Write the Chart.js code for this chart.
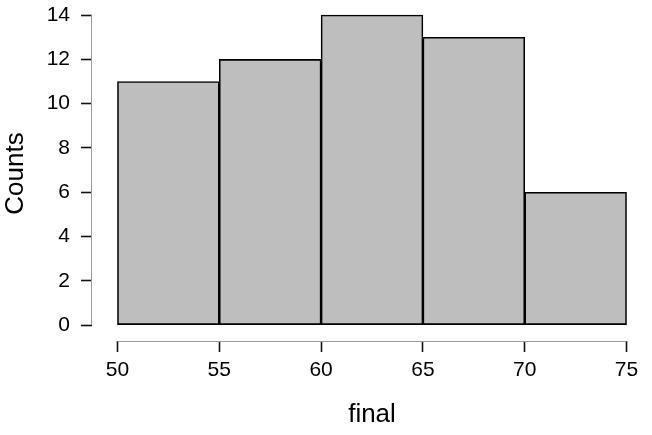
<!DOCTYPE html>
<html>
<head>
<meta charset="utf-8">
<script src="https://cdn.jsdelivr.net/npm/chart.js@4"></script>
<style>
  html, body { margin: 0; padding: 0; background: #fff; }
  #wrap { width: 652px; height: 435px; }
</style>
</head>
<body>
<div id="wrap"><canvas id="histFigure" width="652" height="435"></canvas></div>
<script>
// histogram of "final" - bin edges and counts
var binEdges = [50, 55, 60, 65, 70, 75]
var counts = [11, 12, 14, 13, 6]
var xTicks = [50, 55, 60, 65, 70, 75]
var yTicks = [0, 2, 4, 6, 8, 10, 12, 14]
var xTitle = 'final'
var yTitle = 'Counts'

var barData = []
for (var i = 0; i < counts.length; i++) {
    barData.push({ x: (binEdges[i] + binEdges[i + 1]) / 2, y: counts[i] })
}

var font = "'Liberation Sans', Arial, Helvetica, sans-serif"

// R style axis line: only runs from first to last tick
var axisLines = {
    id: 'axisLines',
    afterDraw: function(chart) {
        var ctx = chart.ctx
        var xs = chart.scales.x
        var ys = chart.scales.y
        var area = chart.chartArea
        ctx.save()
        ctx.strokeStyle = '#9a9a9a'
        ctx.lineWidth = 1
        ctx.beginPath()
        ctx.moveTo(xs.getPixelForValue(xTicks[0]), area.bottom + 0.5)
        ctx.lineTo(xs.getPixelForValue(xTicks[xTicks.length - 1]), area.bottom + 0.5)
        ctx.moveTo(area.left - 0.5, ys.getPixelForValue(yTicks[0]))
        ctx.lineTo(area.left - 0.5, ys.getPixelForValue(yTicks[yTicks.length - 1]))
        ctx.stroke()
        ctx.restore()
    }
}

// no extra room for the end labels, the chart area is fixed
function noMargins(scale) {
    scale.paddingTop = 0
    scale.paddingBottom = 0
    scale.paddingLeft = 0
    scale.paddingRight = 0
}

const config = {
    type: 'bar',
    data: {
        datasets: [{
            data: barData,
            backgroundColor: '#bebebe',
            borderColor: '#000',
            borderWidth: 1.6,
            borderSkipped: false,
            barPercentage: 1,
            categoryPercentage: 1
        }]
    },
    options: {
        responsive: false,
        animation: false,
        layout: { padding: { top: 6, right: 0, bottom: 0, left: 0 } },
        plugins: {
            legend: { display: false },
            tooltip: { enabled: false }
        },
        scales: {
            x: {
                type: 'linear',
                offset: false,
                min: 48.75,
                max: 76.25,
                afterBuildTicks: function(scale) {
                    scale.ticks = xTicks.map(function(v) { return { value: v } })
                },
                afterFit: function(scale) { scale.height = 94; noMargins(scale) },
                grid: { offset: false, drawOnChartArea: false, drawTicks: true, tickLength: 11, tickColor: '#111', tickWidth: 1.6 },
                border: { display: false },
                ticks: { color: '#000', padding: 6, maxRotation: 0, autoSkip: false, font: { family: font, size: 21 } },
                title: { display: true, text: xTitle, color: '#000', padding: { top: 0, bottom: 5 }, font: { family: font, size: 26 } }
            },
            y: {
                min: -0.72,
                max: 14.41,
                afterBuildTicks: function(scale) {
                    scale.ticks = yTicks.map(function(v) { return { value: v } })
                },
                afterFit: function(scale) { scale.width = 92; noMargins(scale) },
                grid: { drawOnChartArea: false, drawTicks: true, tickLength: 11, tickColor: '#111', tickWidth: 1.6 },
                border: { display: false },
                ticks: { color: '#000', padding: 11, autoSkip: false, font: { family: font, size: 21 } },
                title: { display: true, text: yTitle, color: '#000', padding: { top: 0, bottom: 0 }, font: { family: font, size: 26 } }
            }
        }
    },
    plugins: [axisLines]
}

var histFigure = new Chart(document.getElementById('histFigure'), config)
</script>
</body>
</html>
